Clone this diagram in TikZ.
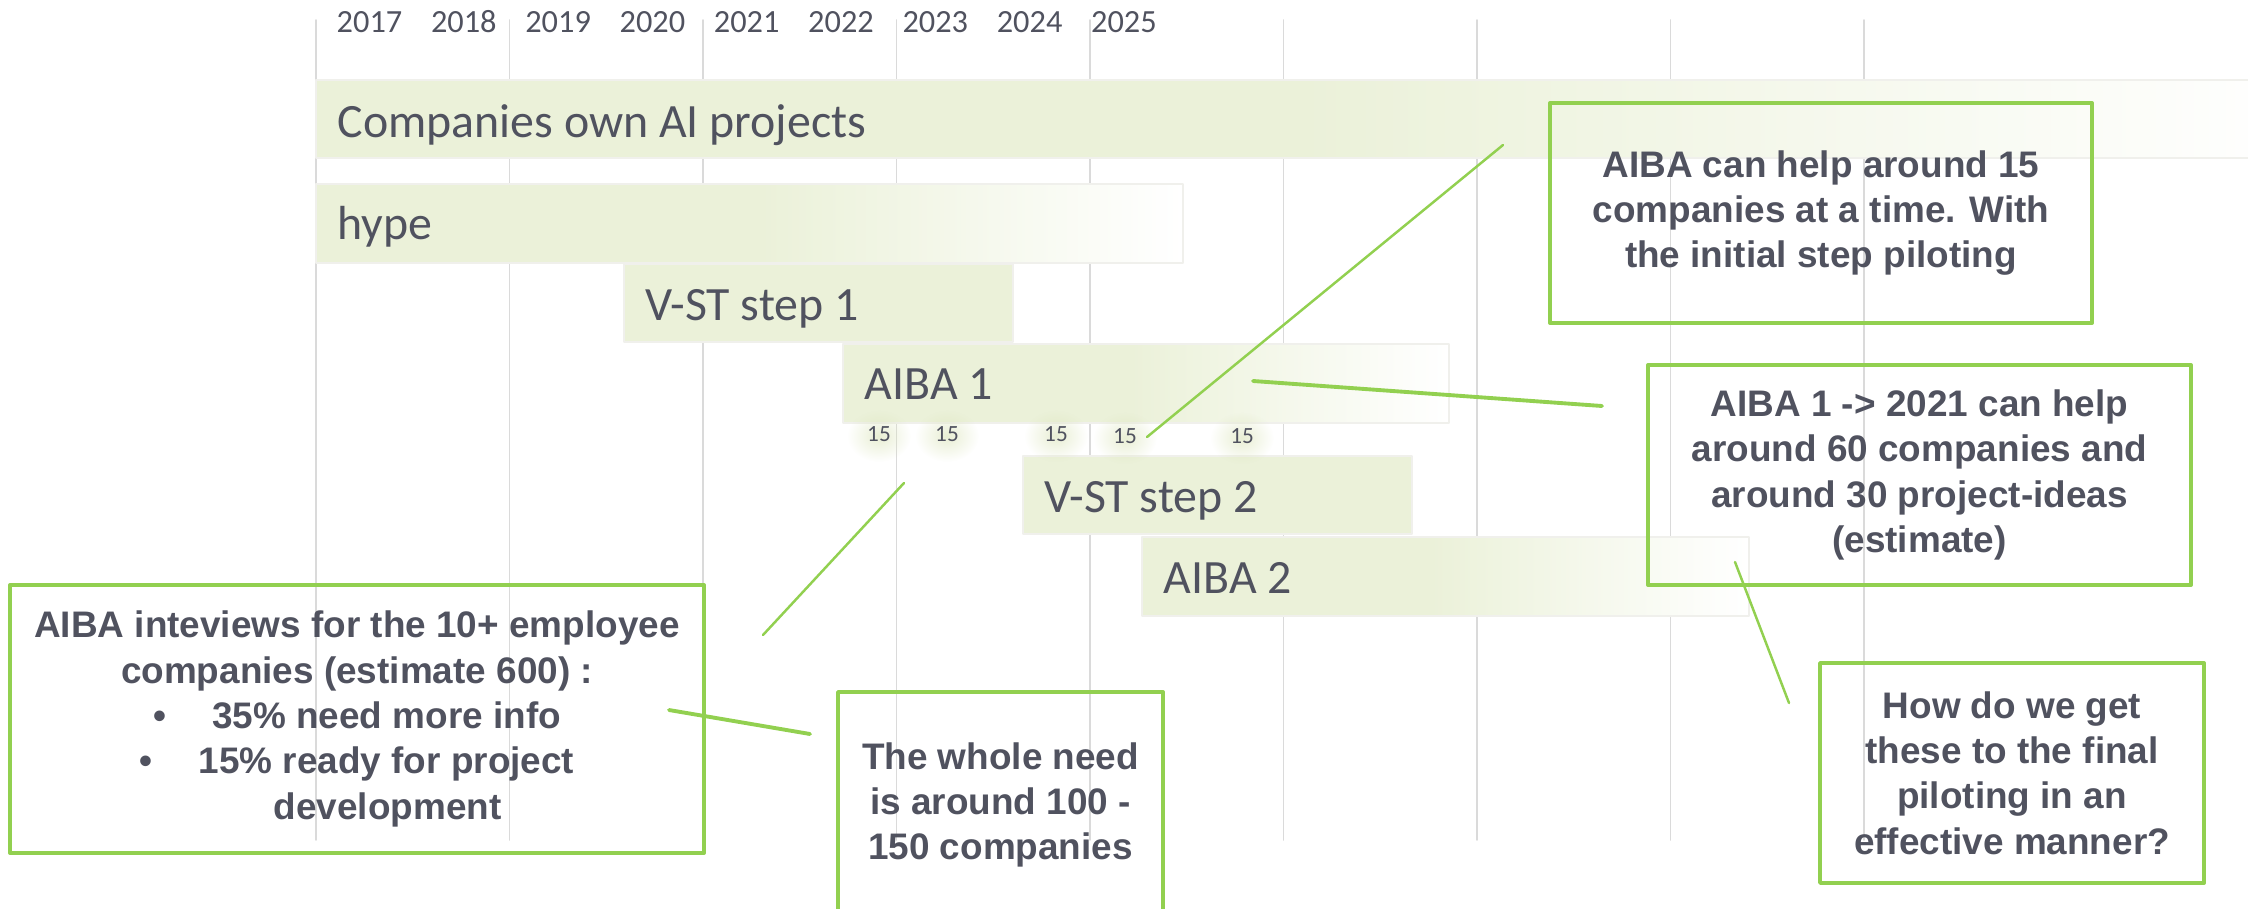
\documentclass[tikz,border=0pt]{standalone}
\usepackage{fontspec}
\setmainfont{Liberation Sans}
\newfontfamily\calibrifont{Carlito}
\usetikzlibrary{fadings}
\definecolor{txtgray}{HTML}{50525F}
\definecolor{barfill}{HTML}{EBF1D9}
\definecolor{glowfill}{HTML}{DCE5BC}
\definecolor{callgreen}{HTML}{92D050}
\definecolor{gridgray}{HTML}{DADADA}
\definecolor{edgegray}{HTML}{F0F0EC}
\tikzfading[name=glowfade, inner color=transparent!35, outer color=transparent!100]
\begin{document}
\begin{tikzpicture}[x=0.01cm, y=-0.01cm, line join=round, line cap=round,
	gridln/.style={gridgray, line width=0.45pt},
	baroutline/.style={draw=edgegray, line width=0.8pt},
	yrs/.style={anchor=base west, inner sep=0pt, text=txtgray, font=\calibrifont\fontsize{9.2}{11}\selectfont},
	fift/.style={anchor=base, inner sep=0pt, text=txtgray, font=\calibrifont\fontsize{6.6}{8}\selectfont},
	bartext/.style={anchor=base west, inner sep=0pt, text=txtgray, font=\calibrifont\fontsize{13.6}{16}\selectfont},
	callout/.style={draw=callgreen, line width=1pt, align=center, inner sep=0pt, text=txtgray, font=\bfseries\fontsize{10.5}{12.9}\selectfont},
	thinln/.style={callgreen, line width=0.7pt},
	thickln/.style={callgreen, line width=1.1pt}]
	\useasboundingbox (0,0) rectangle (2248,909);
	\clip (0,0) rectangle (2248,909);
	\foreach \x in {0,...,8}
	\draw[gridln] (316+193.5*\x,20)--(316+193.5*\x,840);
	\foreach \yr [count=\i from 0] in {2017,...,2025}
	\node[yrs] (y\yr) at (336+94.3*\i,32) {\yr};
	\fill[barfill] (316,80) rectangle (1300,158);
	\shade[left color=barfill, right color=white] (1300,80) rectangle (2300,158);
	\draw[baroutline] (316,80) rectangle (2300,158);
	\fill[barfill] (316,184) rectangle (760,263);
	\shade[left color=barfill, right color=white] (760,184) rectangle (1183,263);
	\draw[baroutline] (316,184) rectangle (1183,263);
	\fill[barfill] (624,264) rectangle (1013,342);
	\draw[baroutline] (624,264) rectangle (1013,342);
	\fill[barfill] (843,344) rectangle (1130,423);
	\shade[left color=barfill, right color=white] (1130,344) rectangle (1449,423);
	\draw[baroutline] (843,344) rectangle (1449,423);
	\fill[barfill] (1023,456) rectangle (1412,534);
	\draw[baroutline] (1023,456) rectangle (1412,534);
	\fill[barfill] (1142,537) rectangle (1430,616);
	\shade[left color=barfill, right color=white] (1430,537) rectangle (1749,616);
	\draw[baroutline] (1142,537) rectangle (1749,616);
	\node[bartext] (own) at (337,137) {Companies own AI projects};
	\node[bartext] (hype) at (337,239) {hype};
	\node[bartext] (vst1) at (645,320) {V-ST step 1};
	\node[bartext] (aiba1) at (864,399) {AIBA 1};
	\node[bartext] (vst2) at (1044,512) {V-ST step 2};
	\node[bartext] (aiba2) at (1163,593) {AIBA 2};
	\foreach \p/\q [count=\i] in {879/441,947/441,1056/441,1125/443,1242/443}
	{\fill[glowfill, path fading=glowfade] (\p,\q-5) ellipse (32 and 26);
		\node[fift] (f\i) at (\p,\q) {15};}
	\node[callout, minimum width=5.42cm, minimum height=2.2cm] (help15) at (1821,213)
	{AIBA can help around 15\\companies at a time. With\\the initial step piloting};
	\node[callout, minimum width=5.43cm, minimum height=2.2cm] (help60) at (1919.5,475)
	{AIBA 1 -> 2021 can help\\around 60 companies and\\around 30 project-ideas\\(estimate)};
	\node[callout, minimum width=6.94cm, minimum height=2.68cm] (intv) at (357,719)
	{AIBA inteviews for the 10+ employee\\companies (estimate 600) :\\
		\textbullet\hspace{13.1pt}35\% need more info\\
		\textbullet\hspace{13.1pt}15\% ready for project\\
		\hspace*{17.4pt}development};
	\node[callout, minimum width=3.25cm, minimum height=2.26cm] (need) at (1000.5,805)
	{The whole need\\is around 100 -\\150 companies};
	\node[callout, minimum width=3.84cm, minimum height=2.2cm] (howq) at (2012,773)
	{How do we get\\these to the final\\piloting in an\\effective manner?};
	\coordinate (a1) at (1147,437);
	\coordinate (a2) at (1503,145);
	\coordinate (b1) at (1253,381);
	\coordinate (b2) at (1602,406);
	\coordinate (c1) at (1735,562);
	\coordinate (c2) at (1789,703);
	\coordinate (d1) at (904,483);
	\coordinate (d2) at (763,635);
	\coordinate (e1) at (669,710);
	\coordinate (e2) at (810,734);
	\draw[thinln] (a1)--(a2);
	\draw[thickln] (b1)--(b2);
	\draw[thinln] (c1)--(c2);
	\draw[thinln] (d1)--(d2);
	\draw[thickln] (e1)--(e2);
\end{tikzpicture}
\end{document}
